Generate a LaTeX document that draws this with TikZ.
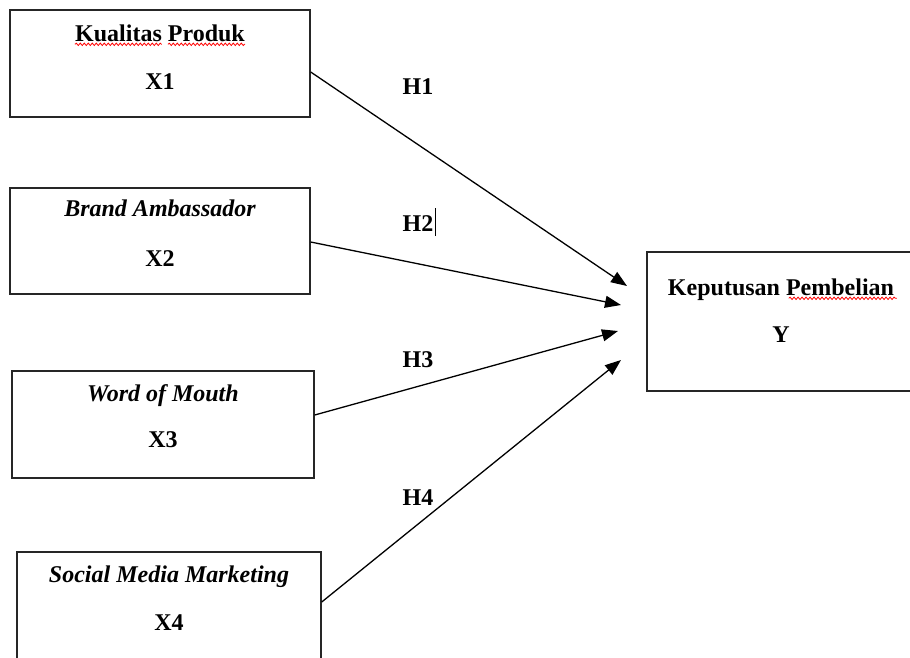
\documentclass[tikz,border=0pt]{standalone}
\usepackage{fontspec}
\setmainfont{Liberation Serif}
\usetikzlibrary{arrows.meta,calc,decorations.pathmorphing}
\tikzstyle{varbox}=[rectangle,draw=black!85,line width=1.4pt,inner sep=0pt]
\tikzstyle{boxtext}=[inner sep=0pt,anchor=base,font=\fontsize{24}{28}\selectfont\bfseries]
\tikzstyle{edge} = [draw,line width=1.3pt,-{Triangle[length=16pt,width=12pt]}]
\tikzstyle{hyp} = [inner sep=0pt,anchor=base,font=\fontsize{24}{28}\selectfont\bfseries]
\tikzstyle{typo} = [draw=red,line width=0.8pt,decorate,decoration={snake,amplitude=1.2pt,segment length=4pt}]

\begin{document}
\begin{tikzpicture}[x=1pt,y=-1pt]
    \useasboundingbox (0,0) rectangle (910,657);
    % First we draw the boxes
    \foreach \pos/\name/\bw/\bh in {{(160,63.5)/x1/300/107}, {(160,241)/x2/300/106}, {(163,424.5)/x3/302/107}, {(169,605.5)/x4/304/107}, {(781,321.5)/y/268/139}}
        \node[varbox,minimum width=\bw pt,minimum height=\bh pt] (\name) at \pos {};

    % Then the texts in each box
    \node[boxtext] (t1) at ($(x1.north)+(0,32)$) {Kualitas Produk};
    \node[boxtext] (v1) at ($(x1.north)+(0,80)$) {X1};
    \node[boxtext] (t2) at ($(x2.north)+(0,29)$) {\itshape Brand Ambassador};
    \node[boxtext] (v2) at ($(x2.north)+(0,79)$) {X2};
    \node[boxtext] (t3) at ($(x3.north)+(0,31)$) {\itshape Word of Mouth};
    \node[boxtext] (v3) at ($(x3.north)+(0,77)$) {X3};
    \node[boxtext] (t4) at ($(x4.north)+(0,31)$) {\itshape Social Media Marketing};
    \node[boxtext] (v4) at ($(x4.north)+(0,79)$) {X4};
    \node[boxtext] (ty) at ($(y.north)+(0,44)$) {Keputusan Pembelian};
    \node[boxtext] (vy) at ($(y.north)+(0,91)$) {Y};

    % spelling marks
    \draw[typo] ($(t1.base west)+(0,3)$) -- ++(87,0);
    \draw[typo] ($(t1.base west)+(93,3)$) -- ++(77,0);
    \draw[typo] ($(ty.base west)+(121,3)$) -- ++(108,0);

    % Connect boxes with arrows and put the hypotheses
    \coordinate (e1) at (627,286);
    \coordinate (e2) at (621,305);
    \coordinate (e3) at (618,331);
    \coordinate (e4) at (621,360);
    \foreach \source/\dy/\dest in {x1/-8.5/e1, x2/-1/e2, x3/9.5/e3, x4/3.5/e4}
        \path[edge] ([yshift=\dy pt]\source.east) -- (\dest);

    \foreach \pos/\name/\lbl in {{(418,94)/h1/H1}, {(418,231)/h2/H2}, {(418,367)/h3/H3}, {(418,505)/h4/H4}}
        \node[hyp] (\name) at \pos {\lbl};
    \draw[line width=0.8pt] ($(h2.base east)+(2,5)$) -- ++(0,-28);
\end{tikzpicture}
\end{document}
